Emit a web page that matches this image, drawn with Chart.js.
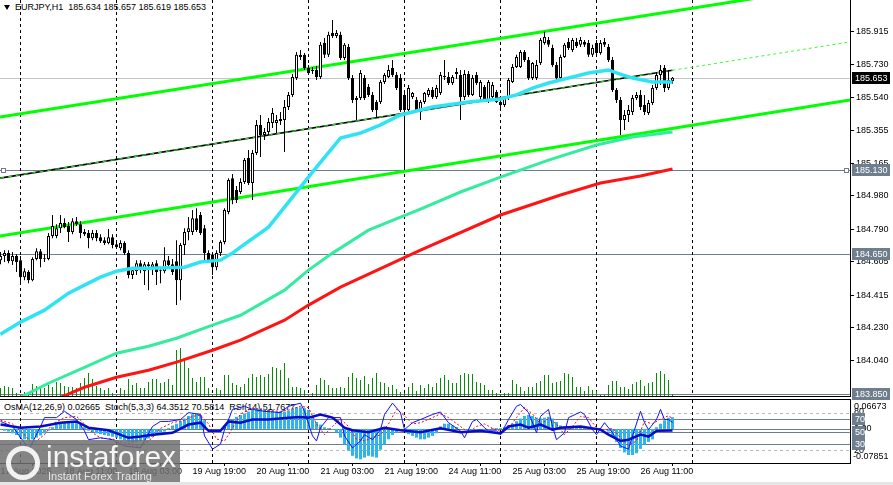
<!DOCTYPE html>
<html>
<head>
<meta charset="utf-8">
<title>EURJPY H1</title>
<script src="https://cdn.jsdelivr.net/npm/chart.js@4.4.1/dist/chart.umd.min.js"></script>
<style>
  html, body { margin: 0; padding: 0; background: #fff; }
  body { position: relative; width: 893px; height: 485px; overflow: hidden; font-family: "Liberation Sans", Arial, sans-serif; }
  canvas { position: absolute; left: 0; }
  #main { top: 0; }
  #sub { top: 396px; }
  .lbl { position: absolute; font-size: 9px; line-height: 11px; white-space: pre; color: #000; }
  #tri { position: absolute; left: 4px; top: 5px; width: 0; height: 0; border-left: 3px solid transparent; border-right: 3px solid transparent; border-top: 5px solid #000; }
  #logo { position: absolute; left: 0; top: 440px; width: 180px; height: 45px; background: rgba(112,112,112,0.85); }
  #logo .big { position: absolute; left: 46px; top: 0; font-size: 30px; line-height: 34px; color: rgba(255,255,255,0.92); }
  #logo .small { position: absolute; left: 48px; top: 30px; font-size: 11px; line-height: 13px; color: rgba(240,240,240,0.9); }
  #logo .ring { position: absolute; left: 6px; top: 6px; width: 24px; height: 24px; border: 5px solid rgba(255,255,255,0.9); border-radius: 50%; }
  #strip { position: absolute; left: 0; top: 482px; width: 893px; height: 3px; background: #e6e6e6; }
</style>
</head>
<body>
<div id="tri"></div>
<div class="lbl" style="left:15px;top:2px;">EURJPY,H1  185.634 185.657 185.619 185.653</div>
<div class="lbl" style="left:4px;top:402px;">OsMA(12,26,9) 0.02665  Stoch(5,3,3) 64.3512 70.5814  RSI(14) 51.7677</div>
<canvas id="main" width="893" height="404"></canvas>
<canvas id="sub" width="893" height="89"></canvas>
<div id="logo"><div class="ring"></div><div class="big">instaforex</div><div class="small">Instant Forex Trading</div></div>
<div id="strip"></div>
<script>
// ─── Price data (H1 bars, index 0 = first visible bar) ───────────────────────
const open = [
  184.614,184.637,184.654,184.608,184.637,184.614,184.517,184.546,184.500,184.620,
  184.665,184.625,184.620,184.751,184.751,184.796,184.825,184.808,184.774,184.836,
  184.819,184.774,184.768,184.739,184.768,184.745,184.728,184.711,184.745,184.705,
  184.682,184.711,184.654,184.529,184.551,184.597,184.551,184.591,184.574,184.597,
  184.551,184.551,184.614,184.591,184.608,184.500,184.700,184.774,184.774,184.853,
  184.871,184.796,184.654,184.643,184.574,184.654,184.717,184.888,185.081,185.013,
  185.002,185.059,185.195,185.053,185.224,185.384,185.327,185.344,185.395,185.395,
  185.406,185.412,185.486,185.555,185.651,185.783,185.783,185.708,185.697,185.697,
  185.657,185.851,185.783,185.908,185.891,185.897,185.765,185.828,185.651,185.526,
  185.537,185.651,185.600,185.555,185.515,185.515,185.629,185.657,185.708,185.669,
  185.651,185.555,185.469,185.543,185.526,185.458,185.515,185.555,185.583,185.543,
  185.566,185.657,185.657,185.623,185.674,185.669,185.543,185.674,185.555,185.669,
  185.543,185.600,185.526,185.543,185.572,185.515,185.498,185.537,185.629,185.714,
  185.714,185.800,185.754,185.651,185.651,185.737,185.851,185.868,185.822,185.726,
  185.651,185.771,185.857,185.811,185.857,185.840,185.857,185.851,185.783,185.851,
  185.794,185.857,185.828,185.754,185.583,185.526,185.412,185.441,185.458,185.537,
  185.555,185.498,185.452,185.509,185.594,185.669,185.708,185.594,185.634
];
const high = [
  184.660,184.671,184.671,184.660,184.648,184.637,184.568,184.557,184.631,184.682,
  184.677,184.648,184.768,184.871,184.819,184.871,184.853,184.831,184.853,184.859,
  184.836,184.791,184.785,184.785,184.785,184.762,184.745,184.791,184.762,184.722,
  184.728,184.722,184.671,184.568,184.614,184.614,184.603,184.603,184.603,184.614,
  184.568,184.688,184.637,184.620,184.728,184.711,184.796,184.859,184.899,184.910,
  184.888,184.814,184.671,184.660,184.671,184.728,184.910,185.081,185.104,185.036,
  185.081,185.195,185.241,185.241,185.412,185.441,185.366,185.423,185.480,185.441,
  185.458,185.526,185.572,185.674,185.800,185.811,185.794,185.726,185.714,185.720,
  185.857,185.879,185.914,185.982,185.925,185.914,185.851,185.845,185.669,185.549,
  185.697,185.669,185.617,185.572,185.526,185.640,185.680,185.726,185.754,185.686,
  185.674,185.583,185.612,185.572,185.543,185.526,185.572,185.594,185.600,185.612,
  185.686,185.754,185.686,185.669,185.708,185.697,185.697,185.691,185.669,185.686,
  185.640,185.612,185.640,185.629,185.583,185.532,185.549,185.651,185.731,185.783,
  185.811,185.811,185.771,185.743,185.754,185.879,185.914,185.885,185.840,185.743,
  185.783,185.851,185.879,185.879,185.879,185.885,185.868,185.868,185.840,185.868,
  185.868,185.879,185.845,185.771,185.594,185.543,185.469,185.498,185.555,185.572,
  185.583,185.555,185.526,185.612,185.686,185.726,185.726,185.697,185.657
];
const low = [
  184.591,184.603,184.597,184.586,184.546,184.483,184.500,184.483,184.494,184.614,
  184.574,184.603,184.614,184.739,184.739,184.768,184.796,184.717,184.762,184.808,
  184.739,184.751,184.682,184.728,184.722,184.711,184.700,184.705,184.682,184.677,
  184.671,184.643,184.511,184.506,184.529,184.540,184.472,184.443,184.529,184.472,
  184.483,184.540,184.568,184.529,184.358,184.386,184.643,184.728,184.757,184.774,
  184.757,184.603,184.603,184.529,184.557,184.637,184.705,184.876,184.933,184.939,
  184.990,185.047,185.042,184.956,185.213,185.201,185.298,185.327,185.366,185.338,
  185.384,185.230,185.469,185.543,185.640,185.754,185.697,185.669,185.674,185.640,
  185.646,185.765,185.771,185.879,185.879,185.754,185.754,185.640,185.509,185.412,
  185.526,185.526,185.543,185.458,185.429,185.503,185.617,185.651,185.657,185.583,
  185.458,185.127,185.458,185.532,185.458,185.412,185.503,185.543,185.532,185.532,
  185.555,185.640,185.612,185.612,185.646,185.412,185.526,185.543,185.549,185.612,
  185.526,185.515,185.509,185.532,185.509,185.480,185.486,185.526,185.623,185.708,
  185.708,185.743,185.640,185.640,185.640,185.726,185.840,185.828,185.714,185.640,
  185.640,185.765,185.811,185.800,185.822,185.828,185.828,185.771,185.771,185.783,
  185.783,185.828,185.743,185.572,185.509,185.327,185.355,185.401,185.441,185.526,
  185.469,185.441,185.441,185.498,185.583,185.612,185.572,185.583,185.619
];
const close = [
  184.637,184.654,184.608,184.637,184.603,184.517,184.551,184.500,184.620,184.665,
  184.620,184.620,184.751,184.808,184.796,184.825,184.802,184.774,184.836,184.819,
  184.768,184.762,184.739,184.768,184.739,184.722,184.711,184.745,184.700,184.688,
  184.711,184.654,184.529,184.557,184.597,184.557,184.591,184.580,184.591,184.546,
  184.557,184.614,184.586,184.546,184.500,184.700,184.774,184.796,184.853,184.785,
  184.768,184.654,184.614,184.574,184.654,184.717,184.899,185.070,184.956,184.956,
  185.059,185.184,185.053,185.224,185.384,185.327,185.344,185.401,185.452,185.412,
  185.418,185.486,185.555,185.657,185.783,185.771,185.708,185.680,185.691,185.657,
  185.840,185.783,185.897,185.891,185.908,185.765,185.840,185.651,185.526,185.537,
  185.680,185.537,185.555,185.469,185.469,185.629,185.669,185.697,185.669,185.594,
  185.469,185.469,185.594,185.566,185.469,185.515,185.566,185.583,185.543,185.594,
  185.669,185.663,185.623,185.657,185.686,185.543,185.674,185.555,185.651,185.623,
  185.629,185.526,185.629,185.612,185.515,185.498,185.537,185.640,185.714,185.771,
  185.800,185.754,185.651,185.737,185.726,185.868,185.885,185.840,185.726,185.651,
  185.771,185.840,185.822,185.868,185.834,185.868,185.840,185.783,185.822,185.794,
  185.851,185.840,185.754,185.583,185.526,185.412,185.441,185.469,185.537,185.555,
  185.486,185.458,185.509,185.594,185.669,185.697,185.594,185.640,185.653
];
// tick volume, hundreds of ticks
const volume = [
  8,10,9,8,3,1,4,4,12,10, 9,8,11,9,14,13,10,9,9,8, 13,18,23,17,10,8,6,8,3,1,
  8,6,17,11,13,8,8,14,17,17, 13,14,17,11,46,48,38,28,18,14, 19,19,8,1,8,6,21,21,13,11,
  9,12,18,22,19,21,19,22,29,28, 26,33,18,9,9,8,6,1,3,11, 18,16,11,8,8,9,8,19,23,18,
  16,20,12,18,23,14,13,9,11,7, 4,3,9,13,5,11,8,12,9,13, 18,21,16,13,13,21,23,22,22,14,
  13,11,6,6,3,2,3,3,16,12, 9,5,9,9,13,15,21,21,13,14, 15,23,22,19,9,9,5,10,6,5,
  1,1,11,15,15,9,9,7,12,14, 16,10,13,14,23,25,22,16,2
];

// ─── Moving averages (sampled bar index / value) ─────────────────────────────
const cyanBars = [0,5,11,17,21,25,29,33,37,46,50,55,58,60,67,75,79,85,90,95,100,108,117,125,129,133,137,142,147,152,154,158,163,168];
const cyanVals = [184.192,184.261,184.329,184.426,184.472,184.517,184.551,184.568,184.568,184.574,
  184.603,184.614,184.654,184.688,184.802,185.030,185.144,185.309,185.338,185.384,
  185.441,185.486,185.515,185.532,185.555,185.594,185.623,185.651,185.680,185.697,
  185.680,185.651,185.629,185.629];
const tealBars = [5,12,21,29,37,44,53,60,71,77,83,92,100,105,115,125,137,149,158,168];
const tealVals = [183.833,183.913,184.004,184.084,184.124,184.169,184.244,184.300,184.443,184.557,
  184.654,184.785,184.859,184.905,185.002,185.087,185.184,185.270,185.315,185.344];
const redBars = [15,21,29,37,44,53,60,71,77,85,105,125,140,150,160,168];
const redVals = [183.833,183.890,183.947,183.987,184.033,184.101,184.158,184.272,184.358,184.460,
  184.671,184.871,184.985,185.053,185.093,185.133];

// ─── Channel lines ───────────────────────────────────────────────────────────
const chanBars = [-0.125, 212.375];
const upperVals = [185.429, 186.190];
const lowerVals = [184.751, 185.526];
const midBars = [-0.125, 168];
const midVals = [185.081, 185.695];
const extBars = [168, 212.375];
const extVals = [185.695, 185.857];

const levelPrices = [185.653, 185.130, 184.650, 183.850];
const priceTicks = [185.915,185.730,185.540,185.355,185.165,184.980,184.790,184.605,184.415,184.230,184.040];

// ─── Indicators ──────────────────────────────────────────────────────────────
const osma = [
  -0.002,-0.004,-0.006,-0.010,-0.014,-0.020,-0.024,-0.026,-0.024,-0.020,
  -0.015,-0.010,-0.004,0.004,0.010,0.014,0.016,0.016,0.015,0.014,
  0.010,0.004,-0.004,-0.008,-0.010,-0.012,-0.014,-0.016,-0.018,-0.020,
  -0.024,-0.026,-0.030,-0.032,-0.030,-0.028,-0.026,-0.022,-0.018,-0.014,
  -0.010,-0.006,0.002,0.008,0.012,0.018,0.024,0.030,0.034,0.036,
  0.032,0.020,-0.004,-0.008,-0.006,-0.002,0.008,0.016,0.022,0.028,
  0.032,0.036,0.040,0.044,0.048,0.048,0.046,0.044,0.042,0.040,
  0.040,0.040,0.042,0.046,0.050,0.050,0.048,0.044,0.030,0.016,
  0.010,0.004,0.002,-0.002,-0.008,-0.020,-0.036,-0.050,-0.062,-0.068,
  -0.070,-0.066,-0.062,-0.064,-0.066,-0.048,-0.036,-0.024,-0.014,-0.008,
  -0.004,-0.004,-0.012,-0.016,-0.020,-0.024,-0.024,-0.020,-0.016,-0.010,
  0.006,0.012,0.012,0.008,0.004,0.000,-0.002,-0.004,-0.004,-0.003,
  -0.002,-0.002,0.000,0.002,0.002,0.002,0.004,0.008,0.012,0.018,
  0.024,0.030,0.032,0.030,0.026,0.024,0.026,0.028,0.024,0.016,
  0.008,0.006,0.006,0.006,0.006,0.006,0.004,0.004,0.002,0.000,
  0.000,-0.002,-0.006,-0.016,-0.030,-0.044,-0.054,-0.060,-0.060,-0.056,
  -0.046,-0.036,-0.030,-0.024,0.004,0.012,0.020,0.026,0.027
];
const stochBars = [0,3,6,7,10,11,14,16,19,21,22,25,28,31,35,38,40,42,45,47,50,51,53,55,56,58,61,63,66,70,
  72,75,76,78,79,80,82,85,86,88,90,91,93,95,96,98,100,101,103,105,108,110,112,115,116,118,119,121,122,124,
  125,127,129,130,132,134,135,137,138,139,141,142,145,146,148,149,151,153,155,157,158,160,161,162,164,165,166,167,168];
const stochMain = [66,58,32,20,58,72,72,82,69,51,37,40,37,27,24,58,66,66,69,80,77,43,22,30,53,85,90,85,82,80,
  90,95,82,43,35,56,72,72,43,24,35,45,37,53,77,95,80,53,64,69,77,81,64,51,40,66,69,56,51,51,
  45,69,90,93,80,48,74,85,58,37,48,72,81,77,53,45,64,48,27,22,43,82,64,53,69,85,69,69,64.35];
const sigBars = [0,3,6,8,11,13,16,19,21,23,25,28,31,35,38,40,43,46,48,50,52,54,56,58,60,63,66,70,72,75,
  77,79,81,83,85,87,89,91,93,95,97,99,101,103,105,108,110,112,115,117,119,121,123,125,127,129,131,133,135,137,
  139,141,143,145,147,149,151,153,155,157,159,161,163,165,167,168];
const sigVals = [68,62,45,30,45,62,72,74,62,48,40,38,32,26,40,55,64,68,74,76,62,38,35,55,78,87,84,82,84,90,
  88,62,45,58,70,58,38,35,40,45,62,85,75,62,64,72,78,72,58,48,58,62,55,50,55,72,88,78,62,70,
  62,45,58,74,72,56,52,55,40,28,35,66,62,70,75,70.58];
const rsiBars = [0,5,10,15,19,22,27,32,35,37,43,47,50,52,55,57,60,63,67,72,75,77,80,83,86,88,92,96,100,105,
  110,115,120,125,127,130,132,135,138,140,145,147,150,152,155,157,160,162,164,168];
const rsiVals = [61,56,58,64,66,56,52,40,42,44,48,61,64,51,51,66,64,69,69,72,73,72,77,72,56,52,49,56,52,49,
  55,49,51,47,58,61,56,61,53,56,58,56,53,45,35,37,45,42,51,51.77];

// ─── Time axis ───────────────────────────────────────────────────────────────
const dateBars = [0,16,32,48,64,80,96,112,128,144,160];
const dateLabels = ['17 Aug 2025','18 Aug 11:00','19 Aug 03:00','19 Aug 19:00','20 Aug 11:00','21 Aug 03:00',
  '21 Aug 19:00','24 Aug 11:00','25 Aug 03:00','25 Aug 19:00','26 Aug 11:00'];
const sepBars = [5,29,53,77,101,125,149,173];

// ─── Styling ─────────────────────────────────────────────────────────────────
const FONT = '9px "Liberation Sans", Arial, sans-serif';
const SLATE = '#6f7e8d';
const X_MIN = -0.125, X_MAX = 212.375;

const pts = (xs, ys) => xs.map((x, i) => ({ x, y: ys[i] }));

function hline(ctx, a, py, color, dash) {
    const yy = Math.round(py) + 0.5;
    ctx.strokeStyle = color;
    ctx.setLineDash(dash || []);
    ctx.beginPath();
    ctx.moveTo(a.left, yy);
    ctx.lineTo(a.right, yy);
    ctx.stroke();
}

function separators(ctx, a, x) {
    ctx.strokeStyle = '#000';
    ctx.setLineDash([3, 3]);
    sepBars.forEach(k => {
        const px = Math.floor(x.getPixelForValue(k)) + 0.5;
        ctx.beginPath();
        ctx.moveTo(px, a.top);
        ctx.lineTo(px, a.bottom);
        ctx.stroke();
    });
    ctx.setLineDash([]);
}

function tag(ctx, left, py, text, bg, w) {
    const top = Math.round(py) - 6;
    ctx.fillStyle = bg;
    ctx.fillRect(left, top, w, 12);
    ctx.fillStyle = '#fff';
    ctx.textAlign = 'left';
    ctx.textBaseline = 'middle';
    ctx.fillText(text, left + 3, top + 6.5);
}

function handle(ctx, cx, py) {
    const yy = Math.round(py);
    ctx.fillStyle = '#fff';
    ctx.fillRect(cx - 2, yy - 2, 5, 5);
    ctx.strokeStyle = SLATE;
    ctx.setLineDash([]);
    ctx.strokeRect(cx - 1.5, yy - 1.5, 4, 4);
}

// ─── Main price panel ────────────────────────────────────────────────────────
const mainDecor = {
    id: 'mainDecor',
    beforeDatasetsDraw(chart) {
        const { ctx, chartArea: a, scales: { x, y } } = chart;
        ctx.save();
        ctx.lineWidth = 1;
        levelPrices.forEach((p, i) => hline(ctx, a, y.getPixelForValue(p), i === 0 ? '#c4c4c4' : SLATE));
        separators(ctx, a, x);
        handle(ctx, 3, y.getPixelForValue(levelPrices[1]));
        handle(ctx, a.right - 4, y.getPixelForValue(levelPrices[1]));
        ctx.restore();
    },
    afterDraw(chart) {
        const { ctx, chartArea: a, scales: { y } } = chart;
        ctx.save();
        ctx.strokeStyle = '#000';
        ctx.lineWidth = 1;
        ctx.beginPath();
        ctx.moveTo(a.right + 0.5, 0);
        ctx.lineTo(a.right + 0.5, a.bottom + 1);
        ctx.moveTo(0, a.bottom + 0.5);
        ctx.lineTo(a.right + 1, a.bottom + 0.5);
        ctx.stroke();
        ctx.font = FONT;
        levelPrices.forEach((p, i) => tag(ctx, a.right + 2, y.getPixelForValue(p), p.toFixed(3), i === 0 ? '#000' : SLATE, 38));
        ctx.restore();
    }
};

const bull = close.map((c, i) => c >= open[i]);

new Chart(document.getElementById('main'), {
    type: 'bar',
    data: {
        datasets: [
            { type: 'line', data: pts(cyanBars, cyanVals), borderColor: '#2fe3f5', borderWidth: 3.5, pointRadius: 0, yAxisID: 'y', order: 1 },
            { type: 'line', data: pts(tealBars, tealVals), borderColor: '#35eba0', borderWidth: 3, pointRadius: 0, yAxisID: 'y', order: 1 },
            { type: 'line', data: pts(redBars, redVals), borderColor: '#ff1414', borderWidth: 3, pointRadius: 0, yAxisID: 'y', order: 1 },
            {
                data: close.map((c, i) => ({ x: i, y: [open[i], Math.abs(c - open[i]) < 0.003 ? c + 0.003 * (bull[i] ? 1 : -1) : c] })),
                backgroundColor: bull.map(b => b ? '#fff' : '#000'),
                borderColor: '#000', borderWidth: 1, borderSkipped: false,
                barThickness: 3, grouped: false, inflateAmount: 0, yAxisID: 'y', order: 2
            },
            {
                data: close.map((c, i) => ({ x: i, y: [low[i], high[i]] })),
                backgroundColor: '#000', barThickness: 1, grouped: false, inflateAmount: 0, yAxisID: 'y', order: 3
            },
            { type: 'line', data: pts(chanBars, upperVals), borderColor: '#00ff00', borderWidth: 3, pointRadius: 0, yAxisID: 'y', order: 4 },
            { type: 'line', data: pts(chanBars, lowerVals), borderColor: '#00ff00', borderWidth: 3, pointRadius: 0, yAxisID: 'y', order: 4 },
            { type: 'line', data: pts(midBars, midVals), borderColor: '#22ee22', borderWidth: 1, borderDash: [4, 4], pointRadius: 0, yAxisID: 'y', order: 4 },
            { type: 'line', data: pts(midBars, midVals), borderColor: '#000', borderWidth: 1.6, pointRadius: 0, yAxisID: 'y', order: 5 },
            { type: 'line', data: pts(extBars, extVals), borderColor: '#33ff33', borderWidth: 1, borderDash: [3, 3], pointRadius: 0, yAxisID: 'y', order: 4 },
            {
                data: volume.map((v, i) => ({ x: i, y: v })),
                backgroundColor: '#0a8a0a', barThickness: 1, grouped: false, inflateAmount: 0, yAxisID: 'yVol', order: 6
            }
        ]
    },
    options: {
        responsive: false,
        animation: false,
        devicePixelRatio: 1,
        events: [],
        layout: { padding: { left: 0, right: 0, top: 0, bottom: 8 }, autoPadding: false },
        plugins: { legend: { display: false }, tooltip: { enabled: false } },
        scales: {
            x: { type: 'linear', display: false, min: X_MIN, max: X_MAX, offset: false },
            y: {
                axis: 'y', position: 'right', min: 183.8403, max: 186.0955,
                afterBuildTicks: s => { s.ticks = priceTicks.map(v => ({ value: v })); },
                afterFit: s => { s.width = 43; s.paddingTop = 0; s.paddingBottom = 0; },
                ticks: { font: { family: 'Liberation Sans', size: 9 }, color: '#000', padding: 2, callback: v => v.toFixed(3) },
                grid: { drawOnChartArea: false, drawTicks: true, tickLength: 4, color: '#000' },
                border: { display: false }
            },
            yVol: { axis: 'y', display: false, min: 0, max: 396 }
        }
    },
    plugins: [mainDecor]
});

// ─── Indicator sub-panel ─────────────────────────────────────────────────────
const subDecor = {
    id: 'subDecor',
    beforeDatasetsDraw(chart) {
        const { ctx, chartArea: a, scales: { x, yOsc, yOsma } } = chart;
        ctx.save();
        ctx.lineWidth = 1;
        hline(ctx, a, yOsc.getPixelForValue(80), '#b8b8b8', [3, 3]);
        hline(ctx, a, yOsc.getPixelForValue(20), '#b8b8b8', [3, 3]);
        [70, 50, 30].forEach(v => hline(ctx, a, yOsc.getPixelForValue(v), SLATE));
        hline(ctx, a, yOsma.getPixelForValue(0), SLATE);
        separators(ctx, a, x);
        ctx.restore();
    },
    afterDraw(chart) {
        const { ctx, chartArea: a, scales: { yOsc, yOsma } } = chart;
        ctx.save();
        ctx.strokeStyle = '#000';
        ctx.lineWidth = 1;
        ctx.setLineDash([]);
        ctx.beginPath();
        ctx.moveTo(0, a.top - 0.5);
        ctx.lineTo(a.right + 1, a.top - 0.5);
        ctx.moveTo(0, a.bottom + 0.5);
        ctx.lineTo(a.right + 1, a.bottom + 0.5);
        ctx.moveTo(a.right + 0.5, a.top - 1);
        ctx.lineTo(a.right + 0.5, a.bottom + 1);
        ctx.stroke();

        ctx.font = FONT;
        ctx.textAlign = 'left';
        ctx.textBaseline = 'middle';
        ctx.fillStyle = '#000';
        ctx.fillText('80', a.right + 4, yOsc.getPixelForValue(80) - 1);
        ctx.fillText('0.00', a.right + 4, yOsma.getPixelForValue(0));
        ctx.fillText('20', a.right + 4, yOsc.getPixelForValue(20));
        ctx.fillText('0.06673', a.right + 4, a.top + 7);
        ctx.fillText('-0.07851', a.right + 3, a.bottom - 6);
        [70, 50, 30].forEach(v => tag(ctx, a.right + 2, yOsc.getPixelForValue(v), String(v), SLATE, 13));
        ctx.restore();
    }
};

new Chart(document.getElementById('sub'), {
    type: 'bar',
    data: {
        datasets: [
            { type: 'line', data: pts(rsiBars, rsiVals), borderColor: '#0a0ac8', borderWidth: 2.5, pointRadius: 0, yAxisID: 'yOsc', order: 1 },
            { type: 'line', data: pts(stochBars, stochMain), borderColor: '#1010ff', borderWidth: 1, pointRadius: 0, yAxisID: 'yOsc', order: 2 },
            { type: 'line', data: pts(sigBars, sigVals), borderColor: '#ff0000', borderWidth: 1, borderDash: [2, 2], pointRadius: 0, yAxisID: 'yOsc', order: 2 },
            {
                data: osma.map((v, i) => ({ x: i, y: v })),
                backgroundColor: '#2eb5ee', barThickness: 3, grouped: false, inflateAmount: 0, yAxisID: 'yOsma', order: 3
            }
        ]
    },
    options: {
        responsive: false,
        animation: false,
        devicePixelRatio: 1,
        events: [],
        layout: { padding: { left: 0, right: 0, top: 4, bottom: 0 }, autoPadding: false },
        plugins: { legend: { display: false }, tooltip: { enabled: false } },
        scales: {
            x: {
                type: 'linear', min: X_MIN, max: X_MAX, offset: false, position: 'bottom',
                afterBuildTicks: s => { s.ticks = dateBars.map(v => ({ value: v })); },
                afterFit: s => { s.height = 22; s.paddingLeft = 0; s.paddingRight = 0; },
                ticks: {
                    autoSkip: false, maxRotation: 0, minRotation: 0, align: 'start', padding: 0,
                    font: { family: 'Liberation Sans', size: 9 }, color: '#000',
                    callback: (v, i) => dateLabels[i]
                },
                grid: { drawOnChartArea: false, drawTicks: true, tickLength: 3, color: '#000' },
                border: { display: false }
            },
            yOsc: {
                axis: 'y', position: 'right', min: 0, max: 100,
                afterFit: s => { s.width = 43; s.paddingTop = 0; s.paddingBottom = 0; },
                ticks: { display: false },
                grid: { display: false },
                border: { display: false }
            },
            yOsma: { axis: 'y', display: false, min: -0.07851, max: 0.06673 }
        }
    },
    plugins: [subDecor]
});
</script>
</body>
</html>
